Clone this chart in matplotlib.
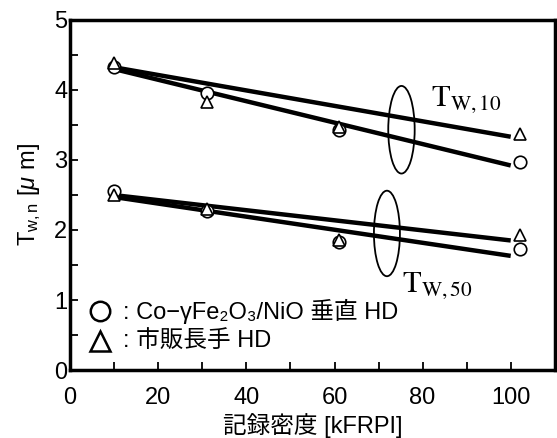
import matplotlib.pyplot as plt
import matplotlib.patches as patches
from matplotlib.ticker import MultipleLocator

plt.rcParams['font.family'] = ['Liberation Sans', 'Noto Sans CJK JP', 'DejaVu Sans']
plt.rcParams['mathtext.fontset'] = 'custom'
plt.rcParams['mathtext.rm'] = 'Liberation Sans'
plt.rcParams['mathtext.it'] = 'Liberation Sans:italic'

# measured points
x_pts = [10, 31, 61, 102]
circ_w10 = [4.33, 3.95, 3.42, 2.97]
tri_w10 = [4.38, 3.82, 3.47, 3.37]
circ_w50 = [2.55, 2.27, 1.83, 1.73]
tri_w50 = [2.50, 2.30, 1.85, 1.93]

# fitted lines (end points)
x_fit = [11, 100]
fit_circ_w10 = [4.28, 2.92]
fit_tri_w10 = [4.31, 3.33]
fit_circ_w50 = [2.46, 1.63]
fit_tri_w50 = [2.49, 1.85]

fig = plt.figure(figsize=(5.57, 4.38), dpi=100)
ax = fig.add_axes([0.126, 0.155, 0.87, 0.80])

for yy in [fit_circ_w10, fit_tri_w10, fit_circ_w50, fit_tri_w50]:
    ax.plot(x_fit, yy, color='black', lw=3.2, solid_capstyle='butt', zorder=2)

for yy in [circ_w10, circ_w50]:
    ax.plot(x_pts, yy, 'o', ms=9, mfc='white', mec='black', mew=1.2, zorder=3)
for yy in [tri_w10, tri_w50]:
    ax.plot(x_pts, yy, '^', ms=9, mfc='white', mec='black', mew=1.2, zorder=3)

ax.add_patch(patches.Ellipse((75.2, 3.43), 6, 1.25, edgecolor='black', facecolor='none', lw=1.3, zorder=4))
ax.add_patch(patches.Ellipse((71.9, 1.95), 5.9, 1.22, edgecolor='black', facecolor='none', lw=1.3, zorder=4))

ax.text(82, 3.86, r'$\mathrm{T_{W,10}}$', fontsize=22, math_fontfamily='stix', va='center')
ax.text(75.3, 1.2, r'$\mathrm{T_{W,50}}$', fontsize=22, math_fontfamily='stix', va='center')

ax.plot([6.8], [0.84], 'o', ms=14, mfc='white', mec='black', mew=1.8)
ax.text(12.0, 0.84, ': Co−γFe₂O₃/NiO 垂直 HD', fontsize=17, va='center')
ax.plot([6.8], [0.42], '^', ms=14, mfc='white', mec='black', mew=1.8)
ax.text(12.0, 0.42, ': 市販長手 HD', fontsize=17, va='center')

ax.set_xlim(0, 110)
ax.set_ylim(0, 5)
ax.xaxis.set_major_locator(MultipleLocator(20))
ax.xaxis.set_minor_locator(MultipleLocator(10))
ax.yaxis.set_major_locator(MultipleLocator(1))
ax.yaxis.set_minor_locator(MultipleLocator(0.5))
ax.tick_params(which='both', direction='in', width=1.3, labelsize=17)
ax.tick_params(which='major', length=6)
ax.tick_params(which='minor', length=6)
ax.tick_params(axis='x', pad=12)
ax.tick_params(axis='y', pad=2)
for s in ax.spines.values():
    s.set_linewidth(2.5)

ax.set_xlabel('記録密度 [kFRPI]', fontsize=17, labelpad=3)
ax.set_ylabel(r'T$_{\mathrm{w,n}}$ [$\mu$ m]', fontsize=17, labelpad=8)

fig.savefig('out.png', dpi=100)
